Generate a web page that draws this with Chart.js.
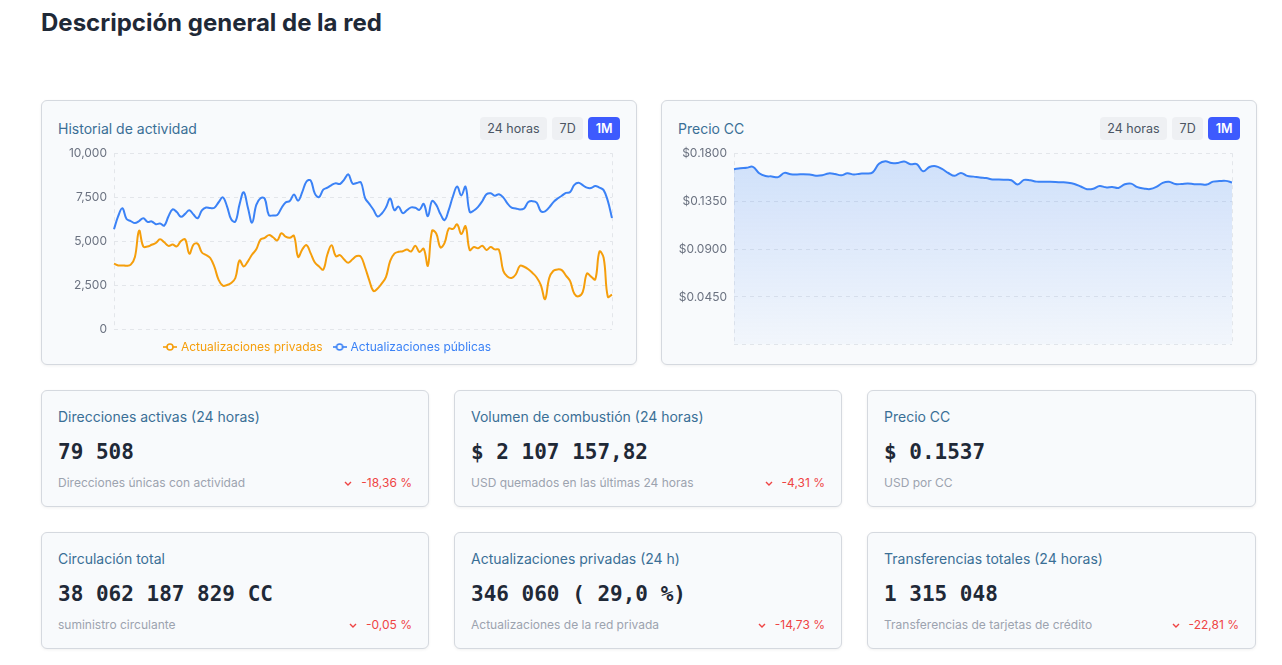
<!DOCTYPE html>
<html lang="es">
<head>
<meta charset="utf-8">
<title>Descripción general de la red</title>
<script src="https://cdn.jsdelivr.net/npm/chart.js@4.4.1/dist/chart.umd.min.js"></script>
<style>
  * { box-sizing: border-box; }
  body { margin: 0; background: #fff; font-family: Inter, "Noto Sans", sans-serif; color: #1f2937; }
  .page { position: relative; width: 1282px; height: 665px; overflow: hidden; }
  h1 { position: absolute; left: 41px; top: 8px; margin: 0; font-size: 24px; line-height: 30px; font-weight: 700; color: #1f2937; }
  .card { position: absolute; background: #f8fafc; border: 1px solid #d5d9df; border-radius: 6px; box-shadow: 0 1px 3px rgba(0, 0, 0, 0.06); }
  .chart-card { top: 100px; width: 596px; height: 265px; }
  .card-title { position: absolute; left: 16px; top: 19px; font-size: 14px; line-height: 18px; color: #3a6f96; white-space: nowrap; }
  .tabs { position: absolute; right: 16px; top: 16px; display: flex; gap: 5px; }
  .tabs span { height: 23px; line-height: 23px; padding: 0 7.5px; border-radius: 4px; background: #eef0f3; font-size: 12.5px; color: #4b5563; }
  .tabs span.on { background: #3d5afe; color: #fff; font-weight: 600; }
  .chart-box { position: absolute; top: 38px; }
  .stat { width: 388px; height: 117px; }
  .stat .card-title { top: 17px; }
  .stat .value { position: absolute; left: 16px; top: 48px; font-family: "DejaVu Sans Mono", "Liberation Mono", monospace; font-weight: 700; font-size: 21px; line-height: 26px; color: #1f2937; white-space: nowrap; }
  .stat .sub { position: absolute; left: 16px; top: 84px; font-size: 12px; line-height: 16px; color: #9ca3af; white-space: nowrap; }
  .stat .chg { position: absolute; right: 16px; top: 84px; font-size: 12px; line-height: 16px; color: #ef4444; white-space: nowrap; display: flex; align-items: center; gap: 9px; }
</style>
</head>
<body>
<div class="page">
  <h1>Descripción general de la red</h1>

  <div class="card chart-card" style="left:41px">
    <div class="card-title">Historial de actividad</div>
    <div class="tabs"><span>24 horas</span><span>7D</span><span class="on">1M</span></div>
    <div class="chart-box" style="left:2px; width:578px; height:224px"><canvas id="activityChart"></canvas></div>
  </div>

  <div class="card chart-card" style="left:661px">
    <div class="card-title">Precio CC</div>
    <div class="tabs"><span>24 horas</span><span>7D</span><span class="on">1M</span></div>
    <div class="chart-box" style="left:-2px; width:578px; height:220px"><canvas id="priceChart"></canvas></div>
  </div>

  <div class="card stat" style="left:41px; top:390px">
    <div class="card-title">Direcciones activas (24 horas)</div>
    <div class="value">79 508</div>
    <div class="sub">Direcciones únicas con actividad</div>
    <div class="chg"><svg width="8" height="5" viewBox="0 0 8 5"><polyline points="1,1 4,4 7,1" fill="none" stroke="#ef4444" stroke-width="1.4"/></svg>-18,36 %</div>
  </div>
  <div class="card stat" style="left:454px; top:390px">
    <div class="card-title">Volumen de combustión (24 horas)</div>
    <div class="value">$ 2 107 157,82</div>
    <div class="sub">USD quemados en las últimas 24 horas</div>
    <div class="chg"><svg width="8" height="5" viewBox="0 0 8 5"><polyline points="1,1 4,4 7,1" fill="none" stroke="#ef4444" stroke-width="1.4"/></svg>-4,31 %</div>
  </div>
  <div class="card stat" style="left:867px; top:390px; width:389px">
    <div class="card-title">Precio CC</div>
    <div class="value">$ 0.1537</div>
    <div class="sub">USD por CC</div>
  </div>

  <div class="card stat" style="left:41px; top:532px">
    <div class="card-title">Circulación total</div>
    <div class="value">38 062 187 829 CC</div>
    <div class="sub">suministro circulante</div>
    <div class="chg"><svg width="8" height="5" viewBox="0 0 8 5"><polyline points="1,1 4,4 7,1" fill="none" stroke="#ef4444" stroke-width="1.4"/></svg>-0,05 %</div>
  </div>
  <div class="card stat" style="left:454px; top:532px">
    <div class="card-title">Actualizaciones privadas (24 h)</div>
    <div class="value">346 060 ( 29,0 %)</div>
    <div class="sub">Actualizaciones de la red privada</div>
    <div class="chg"><svg width="8" height="5" viewBox="0 0 8 5"><polyline points="1,1 4,4 7,1" fill="none" stroke="#ef4444" stroke-width="1.4"/></svg>-14,73 %</div>
  </div>
  <div class="card stat" style="left:867px; top:532px; width:389px">
    <div class="card-title">Transferencias totales (24 horas)</div>
    <div class="value">1 315 048</div>
    <div class="sub">Transferencias de tarjetas de crédito</div>
    <div class="chg"><svg width="8" height="5" viewBox="0 0 8 5"><polyline points="1,1 4,4 7,1" fill="none" stroke="#ef4444" stroke-width="1.4"/></svg>-22,81 %</div>
  </div>
</div>

<script>
// Activity history, 1M view, one point every 6 hours
var privateUpdates = [
    3716, 3618, 3618, 3600, 3660, 4100, 5600, 4690, 4690, 4790,
    4890, 5100, 4930, 4730, 4800, 4700, 5000, 5101, 4280, 4800,
    4850, 4350, 4210, 4040, 3530, 2793, 2464, 2500, 2620, 2900,
    3900, 3560, 3850, 4240, 4530, 5080, 5180, 5340, 5220, 5040,
    5445, 5250, 5185, 5300, 4100, 4530, 4770, 4300, 3780, 3560,
    3380, 4250, 4760, 4140, 4200, 3950, 3770, 3970, 4150, 4110,
    3500, 2770, 2160, 2300, 2597, 2970, 3880, 4290, 4390, 4426,
    4520, 4410, 4740, 4380, 4570, 3600, 5590, 5430, 4640, 4900,
    5720, 5690, 5950, 5400, 5850, 4490, 4660, 4590, 4740, 4500,
    4660, 4530, 4500, 3320, 2983, 2900, 3100, 3590, 3540, 3400,
    3190, 2930, 2500, 1700, 2900, 3310, 3390, 3350, 3041, 2720,
    2000, 1860, 2100, 3150, 2983, 2820, 4400, 4050, 1829, 1962
];
var publicUpdates = [
    5678, 6420, 6870, 6260, 6140, 6025, 6140, 6305, 6090, 6120,
    5960, 6000, 5880, 6400, 6810, 6650, 6380, 6550, 6760, 6510,
    6300, 6750, 6910, 6880, 6900, 7210, 7490, 6980, 6240, 6110,
    7090, 7780, 6900, 6050, 7060, 7440, 7420, 6480, 6460, 6480,
    6870, 7200, 7280, 7650, 7300, 7800, 8390, 8450, 7700, 7510,
    7926, 8040, 8190, 8290, 8250, 8500, 8800, 8272, 8300, 8340,
    7450, 7118, 6780, 6400, 6570, 6920, 7420, 6760, 6960, 6590,
    6760, 6920, 6900, 6780, 7120, 6420, 7280, 7060, 6540, 6196,
    6780, 7550, 8100, 7600, 8100, 6660, 6740, 6950, 7270, 7660,
    7720, 7580, 7670, 7490, 7150, 6900, 6860, 6800, 6860, 7220,
    7273, 7190, 6700, 6690, 6920, 7220, 7420, 7580, 7740, 7790,
    8200, 8320, 8180, 8040, 8020, 8140, 8040, 7900, 7290, 6312
];
var activityTicks = [0, 2500, 5000, 7500, 10000];

// CC price, 1M view
var ccPrice = [
    0.1650, 0.1659, 0.1663, 0.1672, 0.1612, 0.1585, 0.1582, 0.1575, 0.1615, 0.1602,
    0.1600, 0.1603, 0.1600, 0.1589, 0.1593, 0.1610, 0.1605, 0.1592, 0.1612, 0.1599,
    0.1608, 0.1609, 0.1620, 0.1700, 0.1725, 0.1707, 0.1709, 0.1722, 0.1697, 0.1697,
    0.1630, 0.1670, 0.1678, 0.1652, 0.1614, 0.1588, 0.1615, 0.1587, 0.1580, 0.1571,
    0.1566, 0.1553, 0.1553, 0.1550, 0.1546, 0.1506, 0.1549, 0.1545, 0.1533, 0.1531,
    0.1531, 0.1530, 0.1527, 0.1522, 0.1510, 0.1487, 0.1462, 0.1466, 0.1491, 0.1479,
    0.1483, 0.1474, 0.1508, 0.1514, 0.1481, 0.1469, 0.1463, 0.1483, 0.1521, 0.1532,
    0.1510, 0.1511, 0.1515, 0.1509, 0.1508, 0.1505, 0.1533, 0.1538, 0.1540, 0.1525
];
var priceTicks = [0, 0.045, 0.09, 0.135, 0.18];

var orange = '#f59e0b';
var blue = '#3b82f6';
var gridColor = '#e3e6ea';
var tickColor = '#6b7280';

Chart.defaults.font.family = 'Inter, "Noto Sans", sans-serif';
Chart.defaults.font.size = 12;
Chart.defaults.animation = false;

function timeLabels(n, stepHours) {
    var out = [];
    for (var i = 0; i < n; i++) {
        var h = i * stepHours;
        out.push('Día ' + (Math.floor(h / 24) + 1) + ' ' + String(h % 24).padStart(2, '0') + ':00');
    }
    return out;
}

// "-o-" legend marker
function legendMark(color) {
    var c = document.createElement('canvas');
    c.width = 14; c.height = 10;
    var g = c.getContext('2d');
    g.strokeStyle = color;
    g.lineWidth = 1.6;
    g.beginPath(); g.moveTo(0, 5); g.lineTo(14, 5); g.stroke();
    g.fillStyle = '#f8fafc';
    g.beginPath(); g.arc(7, 5, 3, 0, Math.PI * 2); g.fill(); g.stroke();
    return c;
}

function edgeGrid(ctx) {
    var last = ctx.chart.data.labels.length - 1;
    return (ctx.index === 0 || ctx.index === last) ? gridColor : 'rgba(0,0,0,0)';
}

function yAxis(ticks, fmt, width) {
    return {
        min: ticks[0],
        max: ticks[ticks.length - 1],
        afterBuildTicks: function(scale) {
            scale.ticks = ticks.map(function(v) { return { value: v }; });
        },
        afterFit: function(scale) { scale.width = width; },
        grid: { color: gridColor, drawTicks: false },
        border: { display: false, dash: [4, 4] },
        ticks: { color: tickColor, padding: 7, callback: fmt }
    };
}

function xAxis() {
    return {
        ticks: { display: false },
        grid: { color: edgeGrid, drawTicks: false },
        border: { display: false, dash: [4, 4] }
    };
}

function initActivityChart() {
    var ctx = document.getElementById('activityChart');
    if (!ctx) return;
    var marks = [legendMark(orange), legendMark(blue)];

    new Chart(ctx, {
        type: 'line',
        data: {
            labels: timeLabels(privateUpdates.length, 6),
            datasets: [{
                label: 'Actualizaciones privadas',
                data: privateUpdates,
                borderColor: orange,
                backgroundColor: orange,
                borderWidth: 2,
                pointRadius: 0,
                tension: 0.4
            }, {
                label: 'Actualizaciones públicas',
                data: publicUpdates,
                borderColor: blue,
                backgroundColor: blue,
                borderWidth: 2,
                pointRadius: 0,
                tension: 0.4
            }]
        },
        options: {
            responsive: true,
            maintainAspectRatio: false,
            layout: { padding: { right: 10 } },
            plugins: {
                legend: {
                    position: 'bottom',
                    labels: {
                        usePointStyle: true,
                        pointStyleWidth: 10,
                        padding: 12,
                        font: { size: 12 },
                        generateLabels: function(chart) {
                            var items = Chart.defaults.plugins.legend.labels.generateLabels(chart);
                            items.forEach(function(it) {
                                it.pointStyle = marks[it.datasetIndex];
                                it.fontColor = chart.data.datasets[it.datasetIndex].borderColor;
                            });
                            return items;
                        }
                    }
                },
                tooltip: { mode: 'index', intersect: false }
            },
            scales: {
                x: xAxis(),
                y: yAxis(activityTicks, function(v) { return v.toLocaleString('en-US'); }, 70)
            }
        }
    });
}

function initPriceChart() {
    var ctx = document.getElementById('priceChart');
    if (!ctx) return;

    new Chart(ctx, {
        type: 'line',
        data: {
            labels: timeLabels(ccPrice.length, 9),
            datasets: [{
                label: 'Precio CC',
                data: ccPrice,
                borderColor: blue,
                borderWidth: 2,
                pointRadius: 0,
                tension: 0.4,
                fill: 'origin',
                backgroundColor: function(c) {
                    var area = c.chart.chartArea;
                    if (!area) return 'rgba(59,130,246,0.12)';
                    var g = c.chart.ctx.createLinearGradient(0, area.top, 0, area.bottom);
                    g.addColorStop(0, 'rgba(59,130,246,0.22)');
                    g.addColorStop(1, 'rgba(59,130,246,0.03)');
                    return g;
                }
            }]
        },
        options: {
            responsive: true,
            maintainAspectRatio: false,
            layout: { padding: { right: 6 } },
            plugins: {
                legend: { display: false },
                tooltip: { mode: 'index', intersect: false }
            },
            scales: {
                x: xAxis(),
                y: yAxis(priceTicks, function(v) { return v === 0 ? '' : '$' + v.toFixed(4); }, 74)
            }
        }
    });
}

initActivityChart();
initPriceChart();
</script>
</body>
</html>
